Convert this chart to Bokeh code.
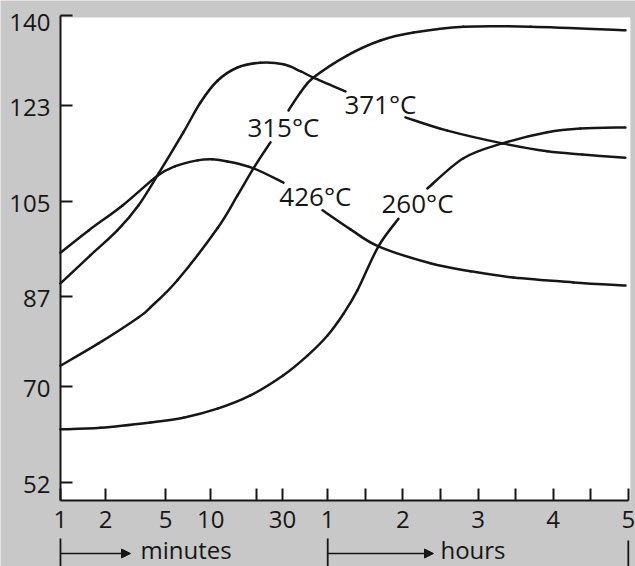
import math
from bokeh.plotting import figure
from bokeh.models import (Range1d, FixedTicker, CustomJSTickFormatter, Arrow,
                          NormalHead)
from bokeh.core.properties import value
from bokeh.embed import file_html
from bokeh.resources import INLINE

NAN = float("nan")

# ---- data: time in minutes, property value ----
t_260 = [1, 1.85, 3.97, 6.58, 11.08, 18.37, 30.45, 44.0, 59.8, 72.6, 83.7, 100.5, 116.5,
         NAN, 139.6, 168.4, 199.5, 235.4, 261.8, 297.7]
v_260 = [62.0, 62.3, 63.3, 64.2, 65.9, 68.4, 72.2, 75.9, 79.7, 83.8, 88.2, 96.5, 101.7,
         NAN, 107.4, 113.1, 115.9, 118.0, 118.7, 118.9]

t_315 = [1, 1.79, 3.30, 3.97, 6.0, 11.08, 15.06, 19.24, 24.96,
         NAN, 32.9, 39.5, 48.2, 75.8, 102.1, 128.5, 168.4, 221.9, 297.7]
v_315 = [74.0, 78.2, 83.1, 85.0, 90.1, 99.9, 106.1, 111.2, 116.1,
         NAN, 122.1, 125.5, 128.3, 132.5, 135.3, 136.8, 137.9, 137.9, 137.2]

t_371 = [1, 1.58, 2.39, 3.30, 4.49, 6.58, 8.54, 11.08, 15.06, 21.4, 30.45, 39.5, 48.2, 74.2,
         NAN, 122.1, 155.6, 199.5, 235.4, 263.4, 297.7]
v_371 = [89.5, 94.8, 99.5, 104.2, 110.2, 118.0, 123.6, 127.7, 130.2, 131.1, 130.8, 129.5, 128.3, 125.7,
         NAN, 120.8, 118.3, 115.9, 114.4, 113.8, 113.2]

t_426 = [1, 1.54, 2.59, 4.42, 5.82, 8.16, 10.26, 12.91, 19.24, 30.45,
         NAN, 55.4, 78.2, 100.5, 142.0, 174.0, 208.3, 256.2, 297.7]
v_426 = [95.3, 99.5, 104.2, 109.8, 111.6, 112.7, 112.9, 112.5, 111.2, 108.5,
         NAN, 103.3, 99.7, 96.5, 93.3, 91.8, 90.6, 89.7, 89.1]

curve_labels = ["315°C", "371°C", "426°C", "260°C"]
label_t = [30.45, 102.1, 49.7, 131.7]
label_v = [118.9, 123.4, 105.9, 104.6]

y_ticks = [52, 70, 87, 105, 123, 140]
y_tick_labels = ["52", "70", "87", "105", "123", "140"]
x_tick_minutes = [1, 2, 5, 10, 20, 30, 60, 90, 120, 150, 180, 210, 240, 270, 300]
x_tick_labels = ["1", "2", "5", "10", "", "30", "1", "", "2", "", "3", "", "4", "", "5"]

# ---- piecewise time scale: log minutes up to 1 h, then linear hours ----
HOUR_W = 0.5
MIN_SPAN = math.log10(60)


def to_axis(t_min):
    if t_min != t_min:
        return NAN
    if t_min <= 60:
        return math.log10(t_min)
    return MIN_SPAN + HOUR_W * (t_min / 60.0 - 1.0)


def smooth_segments(xs, ys):
    """Catmull-Rom curve through the read points, as cubic Bezier pieces."""
    runs, cur = [], []
    for x, y in zip(xs, ys):
        if x != x or y != y:
            if cur:
                runs.append(cur)
            cur = []
        else:
            cur.append((x, y))
    if cur:
        runs.append(cur)
    out = {k: [] for k in ("x0", "y0", "x1", "y1", "cx0", "cy0", "cx1", "cy1")}
    for pts in runs:
        n = len(pts)
        for i in range(n - 1):
            p0 = pts[i - 1] if i > 0 else pts[i]
            p1 = pts[i]
            p2 = pts[i + 1]
            p3 = pts[i + 2] if i + 2 < n else pts[i + 1]
            out["x0"].append(p1[0]); out["y0"].append(p1[1])
            out["x1"].append(p2[0]); out["y1"].append(p2[1])
            out["cx0"].append(p1[0] + (p2[0] - p0[0]) / 6.0)
            out["cy0"].append(p1[1] + (p2[1] - p0[1]) / 6.0)
            out["cx1"].append(p2[0] - (p3[0] - p1[0]) / 6.0)
            out["cy1"].append(p2[1] - (p3[1] - p1[1]) / 6.0)
    return out


INK = "#161616"
GREY = "#c8c8c8"
FONT = "Open Sans"
AXIS_Y = 48.59          # value where the time axis sits
Y_TOP = 142.83
Y_BOTTOM = 36.15
X_START, X_STOP = -0.399, 3.826
PANEL_RIGHT, PANEL_TOP = 3.792, 139.62
X_END = to_axis(300)

p = figure(width=635, height=566, output_backend="svg", toolbar_location=None,
           x_range=Range1d(X_START, X_STOP), y_range=Range1d(Y_BOTTOM, Y_TOP),
           min_border_left=0, min_border_right=0, min_border_top=0, min_border_bottom=0)
p.border_fill_color = GREY
p.background_fill_color = GREY
p.outline_line_color = None
p.grid.visible = False

# white chart panel
p.quad(left=[0], right=[PANEL_RIGHT], bottom=[AXIS_Y], top=[PANEL_TOP],
       fill_color="white", line_color=None, level="underlay")

# curves
for t, v in [(t_260, v_260), (t_315, v_315), (t_371, v_371), (t_426, v_426)]:
    seg = smooth_segments([to_axis(x) for x in t], v)
    p.bezier(line_color=INK, line_width=2.5, line_cap="round", **seg)

p.text([to_axis(x) for x in label_t], label_v, text=curve_labels,
       text_font=value(FONT), text_font_size="26px", text_color=INK,
       text_align="center", text_baseline="middle")

# axes (placed inside the canvas at fixed locations)
xa = p.xaxis[0]
xa.fixed_location = AXIS_Y
xa.bounds = (0, X_END + 1e-9)
xa.ticker = FixedTicker(ticks=[to_axis(t) for t in x_tick_minutes])
xa.formatter = CustomJSTickFormatter(
    args=dict(pos=[to_axis(t) for t in x_tick_minutes], labels=x_tick_labels),
    code="""
for (let i = 0; i < pos.length; i++) {
  if (Math.abs(tick - pos[i]) < 1e-6) return labels[i];
}
return "";
""")
xa.minor_tick_line_color = None
xa.major_tick_in = 12
xa.major_tick_out = 0
xa.major_label_standoff = 11
xa.major_label_text_font = FONT
xa.major_label_text_font_size = "24px"
xa.major_label_text_color = INK

ya = p.yaxis[0]
ya.fixed_location = 0
ya.bounds = (AXIS_Y, 140)
ya.ticker = FixedTicker(ticks=y_ticks)
ya.formatter = CustomJSTickFormatter(code='return "";')
ya.minor_tick_line_color = None
ya.major_tick_in = 12
ya.major_tick_out = 0

for ax in (xa, ya):
    ax.axis_line_color = INK
    ax.axis_line_width = 2
    ax.major_tick_line_color = INK
    ax.major_tick_line_width = 2

# value labels beside the left axis (top one sits a little lower, as in the print)
p.text([0] * len(y_ticks), y_ticks, text=y_tick_labels,
       x_offset=-10, y_offset=[2, 2, 2, 2, 2, 7],
       text_font=value(FONT), text_font_size="24px", text_color=INK,
       text_align="right", text_baseline="middle")

# "minutes" / "hours" brackets under the axis
p.segment(x0=[0, MIN_SPAN, X_END], y0=[Y_BOTTOM] * 3,
          x1=[0, MIN_SPAN, X_END], y1=[41.43, 41.43, 41.05],
          line_color=INK, line_width=1.8)
for xs, xe in [(0, 0.466), (MIN_SPAN, 2.482)]:
    p.add_layout(Arrow(end=NormalHead(size=9, fill_color=INK, line_color=INK),
                       x_start=xs, y_start=38.6, x_end=xe, y_end=38.6,
                       line_color=INK, line_width=1.5))
p.text([0.532, 2.528], [39.4, 39.4], text=["minutes", "hours"],
       text_font=value(FONT), text_font_size="24px", text_color=INK,
       text_align="left", text_baseline="middle")

open("out.html", "w").write(file_html(p, INLINE))
